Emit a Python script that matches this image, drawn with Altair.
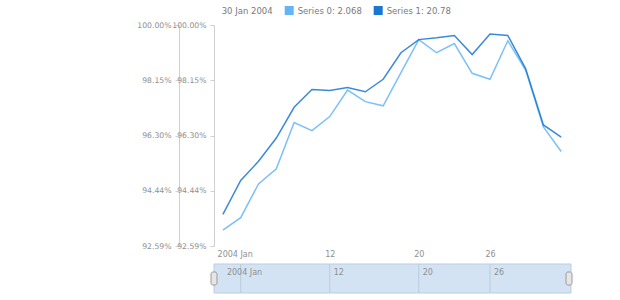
import altair as alt
import pandas as pd

# ---- data ----
dates = ["2004-01-02", "2004-01-05", "2004-01-06", "2004-01-07", "2004-01-08",
         "2004-01-09", "2004-01-12", "2004-01-13", "2004-01-14", "2004-01-15",
         "2004-01-16", "2004-01-20", "2004-01-21", "2004-01-22", "2004-01-23",
         "2004-01-26", "2004-01-27", "2004-01-28", "2004-01-29", "2004-01-30"]
series0 = [93.12, 93.54, 94.67, 95.18, 96.73, 96.46, 96.93, 97.82, 97.43, 97.29,
           98.40, 99.51, 99.07, 99.38, 98.38, 98.18, 99.47, 98.49, 96.58, 95.76]
series1 = [93.65, 94.79, 95.43, 96.21, 97.24, 97.84, 97.80, 97.90, 97.76, 98.18,
           99.07, 99.51, 99.57, 99.65, 99.01, 99.70, 99.65, 98.54, 96.65, 96.24]
series_names = ["Series 0", "Series 1"]
legend_values = ["2.068", "20.78"]
legend_title = "30 Jan 2004"
colors = ["#64b5f6", "#1976d2"]

y_ticks = [92.59, 94.4425, 96.295, 98.1475, 100.0]
x_tick_idx = [1, 6, 11, 15]
x_tick_labels = ["2004 Jan", "12", "20", "26"]
scroll_grid_idx = [1, 6, 11, 15]
scroll_label_idx = [0, 6, 11, 15]
scroll_labels = ["2004 Jan", "12", "20", "26"]

# ---- tables ----
rows = []
for name, vals in zip(series_names, [series0, series1]):
    for i, (d, v) in enumerate(zip(dates, vals)):
        rows.append({"idx": i, "date": d, "series": name, "value": v})
df = pd.DataFrame(rows)
grid_df = pd.DataFrame({"idx": scroll_grid_idx})
slab_df = pd.DataFrame({"idx": scroll_label_idx, "label": scroll_labels})
one = pd.DataFrame({"a": [0]})

W, H = 357, 221
GRAY = "#8f8f8f"
AXC = "#cfcfcf"

x_label_expr = " : ".join(
    [f"datum.value == {i} ? '{l}'" for i, l in zip(x_tick_idx, x_tick_labels)]) + " : ''"
legend_expr = " : ".join(
    [f"datum.label == '{n}' ? '{n}: {v}'" for n, v in zip(series_names, legend_values)]) + " : datum.label"

xscale = alt.Scale(domain=[-0.5, 19.55], nice=False, zero=False)
yscale = alt.Scale(domain=[92.59, 100.0], nice=False, zero=False)

x_axis = alt.Axis(values=x_tick_idx, labelExpr=x_label_expr, domain=False, ticks=False,
                  grid=False, labelColor=GRAY, labelFontSize=8, labelPadding=4,
                  title=None, labelAlign="center",
                  labelOffset={"condition": {"test": f"datum.value == {x_tick_idx[0]}", "value": -6},
                               "value": 0})

def y_axis(offset):
    return alt.Axis(values=y_ticks, labelExpr="format(datum.value, '.2f') + '%'",
                    orient="left", offset=offset, grid=False, domainColor=AXC, tickColor=AXC,
                    tickSize=4, labelColor=GRAY, labelFontSize=7.7, labelPadding=4, title=None)

X = alt.X("idx:Q", scale=xscale, axis=x_axis)

# hidden squares: carry the outer y axis and the filled-square legend
legend_layer = alt.Chart(df).mark_point(shape="square", filled=True, opacity=0).encode(
    x=X,
    y=alt.Y("value:Q", scale=yscale, axis=y_axis(35)),
    fill=alt.Fill("series:N", scale=alt.Scale(domain=series_names, range=colors),
                  legend=alt.Legend(orient="none", legendX=7.7, legendY=-19,
                                    direction="horizontal", title=legend_title,
                                    titleOrient="left", titleFontSize=8.5,
                                    titleFontWeight="normal", titleColor="#7a7a7a",
                                    titlePadding=12, labelFontSize=8.5, labelColor="#7a7a7a",
                                    labelExpr=legend_expr, symbolType="square",
                                    symbolSize=81, symbolStrokeWidth=0, symbolOpacity=1,
                                    labelOffset=4, columnPadding=11, padding=0)),
)

lines = alt.Chart(df).mark_line(strokeWidth=1.5, opacity=0.85).encode(
    x=X,
    y=alt.Y("value:Q", scale=yscale, axis=y_axis(0)),
    stroke=alt.Stroke("series:N", scale=alt.Scale(domain=series_names, range=colors),
                      legend=None),
    detail="series:N",
)

scroll_bg = alt.Chart(one).mark_rect(fill="#d3e3f4", stroke="#b9cde4", strokeWidth=1).encode(
    x=alt.value(0), x2=alt.value(W), y=alt.value(239), y2=alt.value(268))

scroll_grid = alt.Chart(grid_df).mark_rule(color="#bccbdb", strokeWidth=1).encode(
    x=X, y=alt.value(239), y2=alt.value(268))

scroll_text = alt.Chart(slab_df).mark_text(align="left", baseline="middle", dx=4,
                                           fontSize=8, color=GRAY).encode(
    x=X, y=alt.value(248), text="label:N")

handle_l = alt.Chart(one).mark_rect(fill="#e6e6e6", stroke="#9a9a9a", strokeWidth=1,
                                    cornerRadius=2).encode(
    x=alt.value(-3), x2=alt.value(3), y=alt.value(247), y2=alt.value(260))
handle_r = alt.Chart(one).mark_rect(fill="#e6e6e6", stroke="#9a9a9a", strokeWidth=1,
                                    cornerRadius=2).encode(
    x=alt.value(W - 5), x2=alt.value(W + 1), y=alt.value(247), y2=alt.value(260))

chart = alt.layer(
    scroll_bg, scroll_grid, scroll_text, handle_l, handle_r, legend_layer, lines
).resolve_scale(y="independent").properties(
    width=W, height=H,
    autosize=alt.AutoSizeParams(type="none"),
    padding={"left": 214, "top": 25, "right": 49, "bottom": 54},
).configure(font="DejaVu Sans").configure_view(stroke=None)

chart.save("out.html", embed_options={"renderer": "svg", "actions": False})
